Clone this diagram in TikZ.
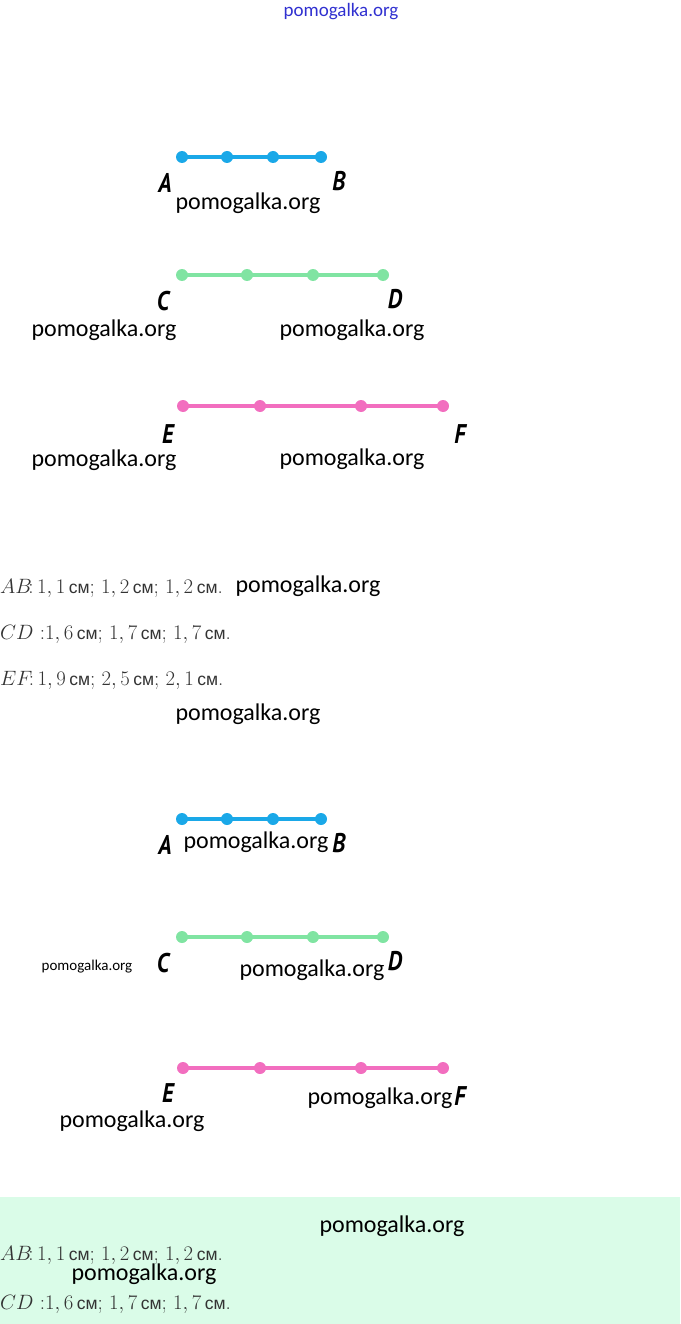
\documentclass[tikz,border=0pt]{standalone}
\usepackage{fontspec}
\newfontfamily\wmfont{Carlito}
\newfontfamily\lblfont{PT Sans}
\newfontfamily\cmfont{Liberation Sans}
\definecolor{segblue}{HTML}{1AA8E8}
\definecolor{seggreen}{HTML}{80E4A2}
\definecolor{segpink}{HTML}{F26EBF}
\definecolor{boxgreen}{HTML}{DAFCE8}
\definecolor{wmblue}{HTML}{3030D0}
\definecolor{txtgray}{HTML}{333333}
\newcommand\sm{\,{\cmfont\fontsize{17.5}{20}\selectfont см}}

\tikzset{
  wm/.style={font=\wmfont\fontsize{24}{24}\selectfont, inner sep=0pt},
  wmsmall/.style={font=\wmfont\fontsize{15}{15}\selectfont, inner sep=0pt},
  lbl/.style={font=\lblfont\bfseries\itshape\fontsize{27}{27}\selectfont, inner sep=0pt, xscale=0.85},
  dotpt/.style={circle, fill=#1, inner sep=0pt, minimum size=12pt},
  seg/.style={line width=4pt, #1},
  answer/.style={font=\fontsize{21}{24}\selectfont, text=txtgray, anchor=west, inner sep=0pt}
}

\begin{document}
\begin{tikzpicture}[x=1pt,y=-1pt]
\useasboundingbox (0,0) rectangle (680,1324);

\fill[boxgreen] (0,1197) rectangle (680,1324); %% answer box

\node[font=\wmfont\fontsize{19}{19}\selectfont, text=wmblue, inner sep=0pt] (top) at (341,12) {pomogalka.org};

%% first drawing
\node[dotpt=segblue] (a1) at (182,157) {};
\node[dotpt=segblue] (a2) at (227,157) {};
\node[dotpt=segblue] (a3) at (273,157) {};
\node[dotpt=segblue] (a4) at (321,157) {};
\draw[seg=segblue] (a1.center) -- (a4.center);
\node[lbl] (A) at (165,183) {A};
\node[lbl] (B) at (339,181) {B};
\node[wm] (w1) at (248,203) {pomogalka.org};

\node[dotpt=seggreen] (c1) at (182,275) {};
\node[dotpt=seggreen] (c2) at (247,275) {};
\node[dotpt=seggreen] (c3) at (313,275) {};
\node[dotpt=seggreen] (c4) at (383,275) {};
\draw[seg=seggreen] (c1.center) -- (c4.center);
\node[lbl] (C) at (163,301) {C};
\node[lbl] (D) at (395,299) {D};
\node[wm] (w2) at (104,330) {pomogalka.org};
\node[wm] (w3) at (352,330) {pomogalka.org};

\node[dotpt=segpink] (e1) at (183,406) {};
\node[dotpt=segpink] (e2) at (260,406) {};
\node[dotpt=segpink] (e3) at (361,406) {};
\node[dotpt=segpink] (e4) at (443,406) {};
\draw[seg=segpink] (e1.center) -- (e4.center);
\node[lbl] (E) at (168,434) {E};
\node[lbl] (F) at (460,434) {F};
\node[wm] (w4) at (104,460) {pomogalka.org};
\node[wm] (w5) at (352,459) {pomogalka.org};

%% measured lengths
\node[answer] (t1) at (0,588) {$AB$\!:\,$1,1$\sm; $1,2$\sm; $1,2$\sm.};
\node[answer] (t2) at (0,634) {$CD$ :$1,6$\sm; $1,7$\sm; $1,7$\sm.};
\node[answer] (t3) at (0,680) {$EF$\!:\,$1,9$\sm; $2,5$\sm; $2,1$\sm.};
\node[wm] (w6) at (308,586) {pomogalka.org};
\node[wm] (w7) at (248,714) {pomogalka.org};

%% second drawing
\node[dotpt=segblue] (b1) at (182,819) {};
\node[dotpt=segblue] (b2) at (227,819) {};
\node[dotpt=segblue] (b3) at (273,819) {};
\node[dotpt=segblue] (b4) at (321,819) {};
\draw[seg=segblue] (b1.center) -- (b4.center);
\node[lbl] (A2) at (165,845) {A};
\node[lbl] (B2) at (339,843) {B};
\node[wm] (w8) at (256,842) {pomogalka.org};

\node[dotpt=seggreen] (d1) at (182,937) {};
\node[dotpt=seggreen] (d2) at (247,937) {};
\node[dotpt=seggreen] (d3) at (313,937) {};
\node[dotpt=seggreen] (d4) at (383,937) {};
\draw[seg=seggreen] (d1.center) -- (d4.center);
\node[lbl] (C2) at (163,963) {C};
\node[lbl] (D2) at (395,961) {D};
\node[wmsmall] (w9) at (87,967) {pomogalka.org};
\node[wm] (w10) at (312,970) {pomogalka.org};

\node[dotpt=segpink] (f1) at (183,1068) {};
\node[dotpt=segpink] (f2) at (260,1068) {};
\node[dotpt=segpink] (f3) at (361,1068) {};
\node[dotpt=segpink] (f4) at (443,1068) {};
\draw[seg=segpink] (f1.center) -- (f4.center);
\node[lbl] (E2) at (168,1093) {E};
\node[lbl] (F2) at (460,1096) {F};
\node[wm] (w11) at (380,1098) {pomogalka.org};
\node[wm] (w12) at (132,1121) {pomogalka.org};

%% answer box text
\node[wm] (w13) at (392,1226) {pomogalka.org};
\node[answer] (t4) at (0,1255) {$AB$\!:\,$1,1$\sm; $1,2$\sm; $1,2$\sm.};
\node[wm] (w14) at (144,1274) {pomogalka.org};
\node[answer] (t5) at (0,1304) {$CD$ :$1,6$\sm; $1,7$\sm; $1,7$\sm.};

\end{tikzpicture}
\end{document}
